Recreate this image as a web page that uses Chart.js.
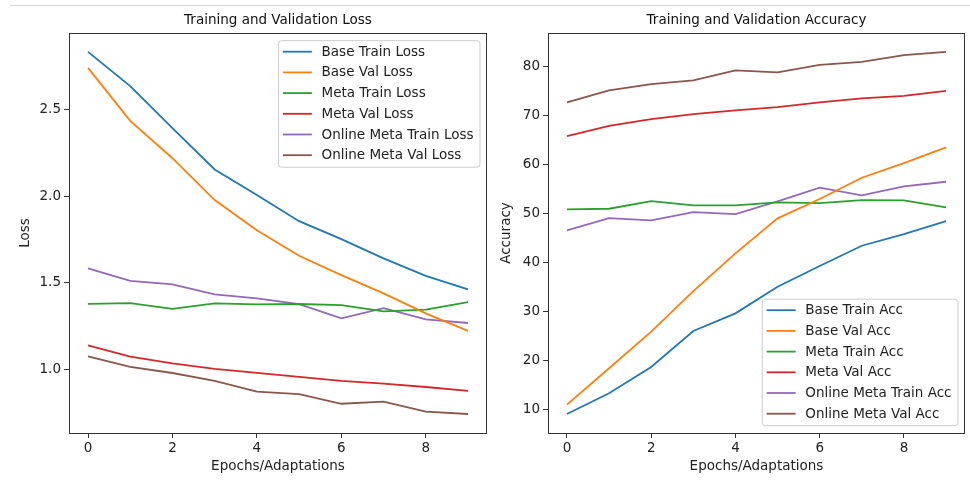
<!DOCTYPE html>
<html>
<head>
<meta charset="utf-8">
<script src="https://cdn.jsdelivr.net/npm/chart.js@4"></script>
<style>
  html, body { margin: 0; padding: 0; background: #fff; }
  #wrap { position: relative; width: 970px; height: 481px; overflow: hidden; }
  #topline { position: absolute; left: 10px; right: 0; top: 5px; height: 1px; background: #d8d8d8; }
  canvas { position: absolute; top: 0; }
</style>
</head>
<body>
<div id="wrap">
  <div id="topline"></div>
  <canvas id="lossChart" width="490" height="481" style="left:0"></canvas>
  <canvas id="accChart" width="480" height="481" style="left:490px"></canvas>
</div>
<script>
const epochs = [0, 1, 2, 3, 4, 5, 6, 7, 8, 9];

// loss curves
const baseTrainLoss = [2.836, 2.638, 2.395, 2.156, 2.008, 1.857, 1.753, 1.642, 1.541, 1.462];
const baseValLoss = [2.743, 2.437, 2.221, 1.979, 1.805, 1.657, 1.545, 1.439, 1.324, 1.223];
const metaTrainLoss = [1.379, 1.383, 1.350, 1.381, 1.376, 1.378, 1.372, 1.335, 1.345, 1.389];
const metaValLoss = [1.139, 1.073, 1.035, 1.003, 0.980, 0.957, 0.934, 0.917, 0.898, 0.875];
const onlineTrainLoss = [1.584, 1.512, 1.491, 1.434, 1.410, 1.377, 1.295, 1.354, 1.289, 1.268];
const onlineValLoss = [1.075, 1.015, 0.979, 0.934, 0.871, 0.857, 0.801, 0.813, 0.755, 0.742];

// accuracy curves
const baseTrainAcc = [9.12, 13.35, 18.71, 26.06, 29.67, 35.1, 39.33, 43.47, 45.86, 48.51];
const baseValAcc = [11.02, 18.45, 25.92, 34.22, 41.9, 49.06, 53.0, 57.35, 60.35, 63.55];
const metaTrainAcc = [50.89, 51.02, 52.59, 51.71, 51.71, 52.33, 52.18, 52.8, 52.73, 51.31];
const metaValAcc = [65.86, 67.96, 69.33, 70.35, 71.1, 71.78, 72.73, 73.55, 74.08, 75.1];
const onlineTrainAcc = [46.61, 49.12, 48.65, 50.35, 49.94, 52.53, 55.31, 53.76, 55.59, 56.53];
const onlineValAcc = [72.73, 75.18, 76.47, 77.22, 79.26, 78.86, 80.41, 81.02, 82.39, 83.06];

const lossNames = ['Base Train Loss', 'Base Val Loss', 'Meta Train Loss', 'Meta Val Loss', 'Online Meta Train Loss', 'Online Meta Val Loss'];
const accNames = ['Base Train Acc', 'Base Val Acc', 'Meta Train Acc', 'Meta Val Acc', 'Online Meta Train Acc', 'Online Meta Val Acc'];

const xTicks = [0, 2, 4, 6, 8];
const lossTicks = [1.0, 1.5, 2.0, 2.5];
const accTicks = [10, 20, 30, 40, 50, 60, 70, 80];

const colors = ['#1f77b4', '#ff7f0e', '#2ca02c', '#d62728', '#9467bd', '#8c564b'];
const FONT = 'DejaVu Sans';
const FS = 13.5;

function toPoints(ys) {
  return epochs.map((x, i) => ({ x: x, y: ys[i] }));
}

function makeSets(names, series) {
  return names.map((n, i) => ({
    label: n,
    data: toPoints(series[i]),
    borderColor: colors[i],
    backgroundColor: colors[i],
    borderWidth: 1.8,
    pointRadius: 0,
    tension: 0,
    fill: false
  }));
}

// matplotlib-like frame + legend inside the axes
const boxLegend = {
  id: 'boxLegend',
  afterDraw(chart, args, opts) {
    const ctx = chart.ctx;
    const a = chart.chartArea;
    ctx.save();
    ctx.font = FS + 'px "' + FONT + '"';
    const sets = chart.data.datasets;
    let tw = 0;
    sets.forEach(d => { tw = Math.max(tw, ctx.measureText(d.label).width); });
    const w = 43 + tw + 6.5;
    const rowH = 20.7;
    const h = 11 + rowH * (sets.length - 1) + 12;
    const x0 = a.right - 7 - w;
    const y0 = opts.corner === 'lower' ? a.bottom - 7.3 - h : a.top + 7.7;
    ctx.beginPath();
    ctx.roundRect(x0, y0, w, h, 3);
    ctx.fillStyle = 'rgba(255,255,255,0.8)';
    ctx.fill();
    ctx.strokeStyle = '#cccccc';
    ctx.lineWidth = 1;
    ctx.stroke();
    sets.forEach((d, i) => {
      const cy = y0 + 11 + i * rowH;
      ctx.beginPath();
      ctx.moveTo(x0 + 4.3, cy);
      ctx.lineTo(x0 + 33.3, cy);
      ctx.strokeStyle = d.borderColor;
      ctx.lineWidth = 1.8;
      ctx.stroke();
      ctx.fillStyle = '#222';
      ctx.textBaseline = 'middle';
      ctx.textAlign = 'left';
      ctx.fillText(d.label, x0 + 43, cy + 0.5);
    });
    // axes frame
    ctx.strokeStyle = '#333';
    ctx.lineWidth = 1;
    ctx.strokeRect(Math.round(a.left) + 0.5, Math.round(a.top) + 0.5, Math.round(a.right - a.left) - 1, Math.round(a.bottom - a.top));
    ctx.restore();
  }
};

function makeChart(id, cfg) {
  return new Chart(document.getElementById(id), {
    type: 'line',
    data: { datasets: cfg.sets },
    plugins: [boxLegend],
    options: {
      responsive: false,
      animation: false,
      devicePixelRatio: 1,
      layout: { padding: { left: 0, top: 0, bottom: 0, right: cfg.padRight } },
      plugins: {
        legend: { display: false },
        tooltip: { enabled: false },
        boxLegend: { corner: cfg.corner },
        title: {
          display: true,
          text: cfg.title,
          fullSize: false,
          color: '#111',
          font: { family: FONT, size: FS, weight: 'normal' },
          padding: { top: 12.6, bottom: 4.2 }
        }
      },
      scales: {
        x: {
          type: 'linear',
          min: -0.45,
          max: 9.45,
          afterBuildTicks: s => { s.ticks = xTicks.map(v => ({ value: v })); },
          afterFit: s => { s.height = 48; s.paddingLeft = 0; s.paddingRight = 0; },
          grid: { drawOnChartArea: false, drawTicks: true, tickLength: 5, tickColor: '#333' },
          border: { display: false },
          ticks: { color: '#222', padding: 2, maxRotation: 0, font: { family: FONT, size: FS } },
          title: {
            display: true,
            text: 'Epochs/Adaptations',
            color: '#222',
            font: { family: FONT, size: FS },
            padding: { top: 0, bottom: 6.2 }
          }
        },
        y: {
          min: cfg.yMin,
          max: cfg.yMax,
          afterBuildTicks: s => { s.ticks = cfg.yTicks.map(v => ({ value: v })); },
          afterFit: s => { s.width = cfg.yWidth; s.paddingTop = 0; s.paddingBottom = 0; },
          grid: { drawOnChartArea: false, drawTicks: true, tickLength: 5, tickColor: '#333' },
          border: { display: false },
          ticks: { color: '#222', padding: 3, font: { family: FONT, size: FS }, callback: cfg.fmt },
          title: {
            display: true,
            text: cfg.yTitle,
            color: '#222',
            font: { family: FONT, size: FS },
            padding: { top: cfg.yTitlePad, bottom: 0 }
          }
        }
      }
    }
  });
}

makeChart('lossChart', {
  sets: makeSets(lossNames, [baseTrainLoss, baseValLoss, metaTrainLoss, metaValLoss, onlineTrainLoss, onlineValLoss]),
  title: 'Training and Validation Loss',
  yTitle: 'Loss',
  yMin: 0.632,
  yMax: 2.945,
  yTicks: lossTicks,
  fmt: v => v.toFixed(1),
  yWidth: 69,
  yTitlePad: 16.9,
  padRight: 3,
  corner: 'upper'
});

makeChart('accChart', {
  sets: makeSets(accNames, [baseTrainAcc, baseValAcc, metaTrainAcc, metaValAcc, onlineTrainAcc, onlineValAcc]),
  title: 'Training and Validation Accuracy',
  yTitle: 'Accuracy',
  yMin: 5.24,
  yMax: 86.9,
  yTicks: accTicks,
  fmt: v => String(v),
  yWidth: 58,
  yTitlePad: 8.6,
  padRight: 5,
  corner: 'lower'
});
</script>
</body>
</html>
